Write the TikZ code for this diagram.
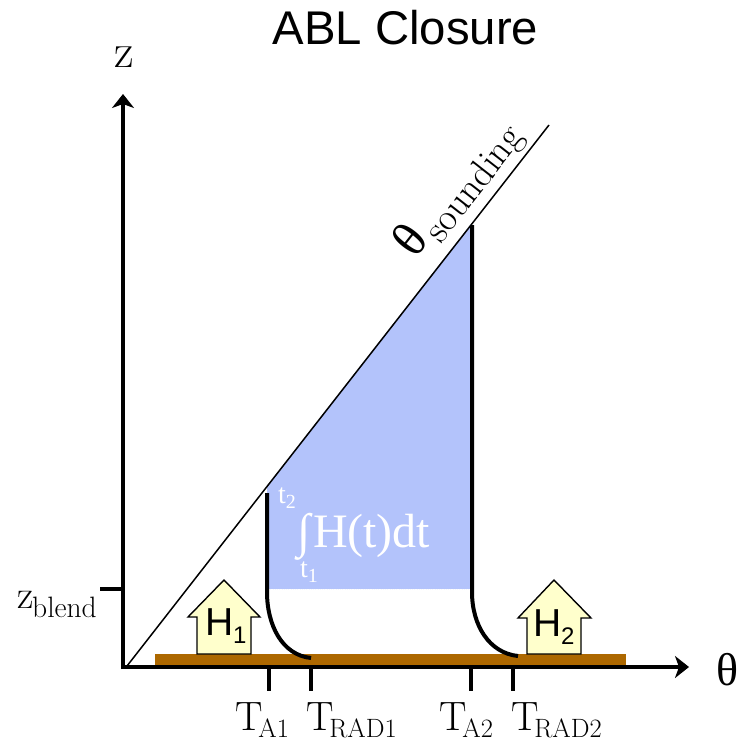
\documentclass[tikz,border=0pt]{standalone}
\usepackage{fontspec}
\usetikzlibrary{arrows.meta}
\newfontfamily\sansf{Liberation Sans}
\newfontfamily\timesf{Liberation Serif}
\newcommand{\fs}[1]{\fontsize{#1}{#1}\selectfont}
\definecolor{brownbar}{HTML}{AD6800}
\definecolor{bluefill}{HTML}{B3C3FB}
\definecolor{arrowfill}{HTML}{FFFFCC}
\tikzset{
  txt/.style={inner sep=0pt,outer sep=0pt,anchor=base west},
  axisline/.style={line width=4pt,black,-{Stealth[length=14pt,width=22pt,inset=4pt]}},
  tickline/.style={line width=4pt,black},
  thick curve/.style={line width=4pt,black},
  housearrow/.style={draw=black,line width=1.4pt,fill=arrowfill,line join=miter},
}
\newcommand{\lab}[1]{T\kern-4pt\raisebox{-7pt}{\fs{26.5}#1}}
\begin{document}
\begin{tikzpicture}[x=1pt,y=-1pt]
\useasboundingbox (0,0) rectangle (751,741);
% blue area
\fill[bluefill] (267,486) -- (471,224) -- (471,589) -- (267,589) -- cycle;
\draw[white,line width=0.8pt,densely dotted] (267,589) -- (471,589);
% sounding line
\coordinate (s0) at (127,666);
\coordinate (s1) at (549,125);
\draw[line width=1.5pt] (s0) -- (s1);
% brown bar
\fill[brownbar] (155,654) rectangle (626,667);
% axes
\coordinate (o) at (123,667);
\coordinate (zt) at (123,94);
\coordinate (tr) at (689,667);
\draw[axisline] (121,667) -- (tr);
\draw[axisline] (123,669) -- (zt);
% ticks
\draw[tickline] (100,589) -- (123,589);
\foreach \x in {269,311,471,513} \draw[tickline] (\x,667) -- (\x,691);
% profiles
\draw[thick curve] (267,493) -- (267,592) .. controls (267,625) and (282,655) .. (311,658);
\draw[thick curve] (472,225) -- (472,592) .. controls (472,625) and (489,653) .. (518,656);
% house arrows
\draw[housearrow] (197,654) -- (197,617) -- (188,617) -- (224,580) -- (260,617) -- (251,617) -- (251,654) -- cycle;
\draw[housearrow] (527,654) -- (527,618) -- (518,618) -- (554,580) -- (591,618) -- (581,618) -- (581,654) -- cycle;
\node[txt] (h1) at (205,635) {\sansf\fs{39}H\raisebox{-8pt}{\fs{24}1}};
\node[txt] (h2) at (533,636) {\sansf\fs{39}H\raisebox{-8pt}{\fs{24}2}};
% texts
\node[inner sep=0pt] (title) at (405.5,28) {\sansf\fs{47.3}ABL Closure};
\node[txt] (zlab) at (114,68) {\fs{48}z};
\node[txt] (thlab) at (716,685) {\timesf\fs{46}θ};
\node[txt] (zb) at (17,608) {\fs{40}z\kern-1pt\raisebox{-9pt}{\fs{29.5}blend}};
\node[txt] (ta1) at (235,730) {\fs{41}\lab{A1}};
\node[txt] (tr1) at (306,730) {\fs{41}\lab{RAD1}};
\node[txt] (ta2) at (439,730) {\fs{41}\lab{A2}};
\node[txt] (tr2) at (511,730) {\fs{41}\lab{RAD2}};
\node[txt,rotate=52] (snd) at (415.5,259) {{\timesf\fs{50}θ}\kern3.5pt\raisebox{-11pt}{\fs{38}sounding}};
% integral
\node[txt,white] (hint) at (313,547) {\timesf\fs{48}H(t)dt};
\node[txt,white] (intg) at (297,547) {\timesf\fs{48}∫};
\node[txt,white] (t2) at (278,503) {\timesf\fs{28}t\raisebox{-5pt}{\fs{20}2}};
\node[txt,white] (t1) at (300,577) {\timesf\fs{28}t\raisebox{-5pt}{\fs{20}1}};
\end{tikzpicture}
\end{document}
